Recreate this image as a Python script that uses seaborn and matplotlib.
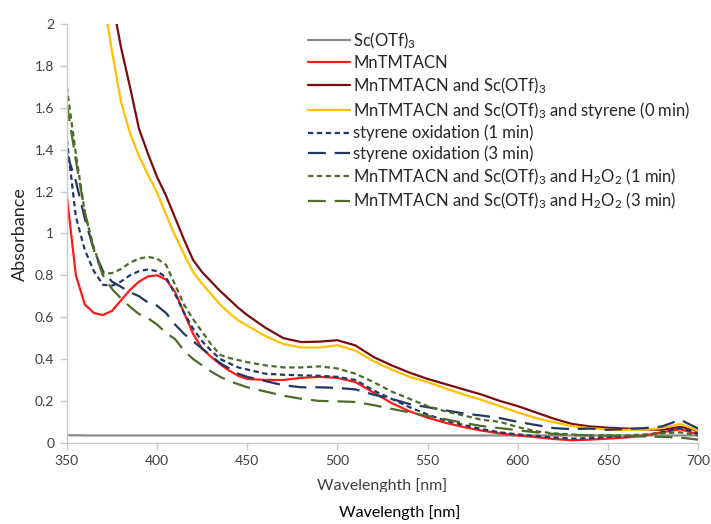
import numpy as np
import pandas as pd
import matplotlib
matplotlib.use("Agg")
import matplotlib.pyplot as plt
import seaborn as sns
from matplotlib.patches import Rectangle

wavelength = [350,355,360,365,370,375,380,385,390,395,400,405,410,415,420,425,430,435,440,445,450,460,470,
              480,490,500,510,520,530,540,550,560,570,580,590,600,610,620,630,640,650,660,670,680,690,700]

sc_otf = [0.036,0.036,0.035,0.035,0.035,0.035,0.035,0.035,0.035,0.035,0.035,0.035,0.035,0.035,0.035,0.035,
          0.035,0.035,0.035,0.035,0.035,0.035,0.035,0.035,0.035,0.035,0.035,0.035,0.035,0.035,0.035,0.035,
          0.035,0.035,0.035,0.035,0.035,0.035,0.035,0.035,0.035,0.035,0.035,0.035,0.035,0.035]
mn = [1.18,0.80,0.66,0.62,0.61,0.63,0.68,0.73,0.77,0.795,0.80,0.78,0.72,0.62,0.52,0.45,0.41,0.375,0.345,0.32,0.305,
      0.30,0.30,0.31,0.315,0.31,0.29,0.24,0.19,0.15,0.12,0.095,0.075,0.058,0.045,0.035,0.027,0.018,0.012,0.015,
      0.02,0.025,0.035,0.05,0.065,0.04]
mn_sc = [3.4,3.05,2.75,2.5,2.32,2.12,1.89,1.70,1.50,1.38,1.27,1.18,1.075,0.97,0.873,0.815,0.77,0.725,0.685,0.645,
         0.61,0.55,0.50,0.481,0.483,0.49,0.465,0.41,0.37,0.335,0.305,0.28,0.255,0.23,0.20,0.175,0.145,0.115,0.09,
         0.078,0.072,0.068,0.064,0.062,0.076,0.058]
mn_sc_sty = [3.2,2.85,2.6,2.38,2.14,1.87,1.63,1.48,1.37,1.28,1.195,1.09,0.99,0.90,0.815,0.76,0.71,0.66,0.62,0.585,
             0.56,0.51,0.472,0.455,0.455,0.466,0.44,0.39,0.35,0.315,0.29,0.26,0.23,0.205,0.175,0.145,0.118,0.098,
             0.08,0.07,0.063,0.061,0.063,0.07,0.09,0.058]
sty_1 = [1.45,1.08,0.92,0.82,0.755,0.75,0.77,0.80,0.82,0.828,0.82,0.79,0.71,0.62,0.545,0.485,0.44,0.40,0.38,0.36,
         0.35,0.33,0.325,0.322,0.32,0.315,0.30,0.25,0.21,0.17,0.135,0.105,0.085,0.065,0.05,0.04,0.032,0.025,0.02,
         0.022,0.028,0.03,0.035,0.05,0.07,0.045]
sty_3 = [1.38,1.25,1.07,0.92,0.82,0.77,0.745,0.72,0.70,0.67,0.655,0.62,0.565,0.52,0.485,0.45,0.415,0.38,0.355,0.33,
         0.315,0.295,0.275,0.265,0.265,0.262,0.255,0.23,0.21,0.185,0.17,0.155,0.14,0.13,0.118,0.10,0.085,0.07,
         0.065,0.068,0.062,0.066,0.07,0.078,0.11,0.068]
h2o2_1 = [1.70,1.38,1.10,0.93,0.81,0.81,0.83,0.86,0.88,0.888,0.88,0.85,0.755,0.66,0.59,0.53,0.47,0.42,0.405,0.395,
          0.385,0.37,0.36,0.36,0.365,0.355,0.33,0.29,0.245,0.21,0.175,0.15,0.13,0.11,0.10,0.075,0.055,0.045,0.04,
          0.035,0.035,0.035,0.04,0.045,0.05,0.035]
h2o2_3 = [1.62,1.35,1.10,0.92,0.80,0.735,0.69,0.65,0.615,0.595,0.565,0.525,0.495,0.44,0.40,0.37,0.34,0.315,0.295,
          0.28,0.265,0.245,0.225,0.21,0.20,0.198,0.195,0.18,0.162,0.145,0.128,0.112,0.095,0.08,0.07,0.06,0.05,
          0.042,0.037,0.035,0.034,0.032,0.03,0.028,0.025,0.015]

labels = ["Sc(OTf)$_3$", "MnTMTACN", "MnTMTACN and Sc(OTf)$_3$",
          "MnTMTACN and Sc(OTf)$_3$ and styrene (0 min)",
          "styrene oxidation (1 min)", "styrene oxidation (3 min)",
          "MnTMTACN and Sc(OTf)$_3$ and H$_2$O$_2$ (1 min)",
          "MnTMTACN and Sc(OTf)$_3$ and H$_2$O$_2$ (3 min)"]
series = [sc_otf, mn, mn_sc, mn_sc_sty, sty_1, sty_3, h2o2_1, h2o2_3]
colors = ["#8c8c8c", "#ff1a1a", "#7b0c0c", "#ffc000", "#1f3864", "#1f3864", "#4e6b2a", "#4e6b2a"]
dash_styles = ["", "", "", "", (2.4, 1.6), (8, 4), (2.4, 1.6), (8, 4)]

frames = []
for lab, vals in zip(labels, series):
    frames.append(pd.DataFrame({"Wavelength": wavelength, "Absorbance": vals, "Series": lab}))
df = pd.concat(frames, ignore_index=True)

sns.set_theme(style="white")
plt.rcParams["font.family"] = ["Lato", "DejaVu Sans"]
plt.rcParams["mathtext.fontset"] = "custom"
plt.rcParams["mathtext.rm"] = "Lato"
plt.rcParams["mathtext.it"] = "Lato:italic"

fig = plt.figure(figsize=(7.11, 5.24), dpi=100)
ax = fig.add_axes([0.094, 0.155, 0.888, 0.799])

sns.lineplot(data=df, x="Wavelength", y="Absorbance", hue="Series", style="Series",
             hue_order=labels, style_order=labels,
             palette=dict(zip(labels, colors)), dashes=dict(zip(labels, dash_styles)),
             linewidth=1.6, ax=ax, legend=True, estimator=None, sort=False)

ax.set_xlim(350, 700)
ax.set_ylim(0, 2)
ax.set_xticks(np.arange(350, 701, 50))
ax.set_yticks(np.arange(0, 2.01, 0.2))
ax.set_yticklabels(["0", "0.2", "0.4", "0.6", "0.8", "1", "1.2", "1.4", "1.6", "1.8", "2"])
for s in ["top", "right"]:
    ax.spines[s].set_visible(False)
for s in ["left", "bottom"]:
    ax.spines[s].set_color("#c8c8c8")
    ax.spines[s].set_linewidth(1.0)
ax.tick_params(axis="both", direction="out", length=5, width=1, color="#c8c8c8",
               labelsize=10, labelcolor="#404040", pad=4, left=True, bottom=True)
ax.set_xlabel("")
ax.set_ylabel("")
fig.text(20 / 711, 1 - 234 / 524, "Absorbance", rotation=90, ha="center", va="center",
         fontsize=13, color="#262626")

handles, labs = ax.get_legend_handles_labels()
ax.legend(handles, labs, loc="upper left", bbox_to_anchor=(0.382, 0.985), frameon=False,
          fontsize=12, handlelength=2.5, handletextpad=0.2, labelspacing=0.25,
          borderaxespad=0, borderpad=0)

t = fig.text((67 + 698) / 2 / 711, 1 - 486 / 524, "Wavelenghth [nm]", ha="center", va="center",
             fontsize=11.5, color="#404040")
clip = Rectangle((0, 1 - 492 / 524), 1, 0.2, transform=fig.transFigure, visible=False)
fig.add_artist(clip)
t.set_clip_path(clip)
t.set_clip_on(True)

fig.text(400 / 711, 1 - 513 / 524, "Wavelength [nm]", ha="center", va="center",
         fontsize=11.5, color="#000000")

fig.savefig("out.png", dpi=100)
